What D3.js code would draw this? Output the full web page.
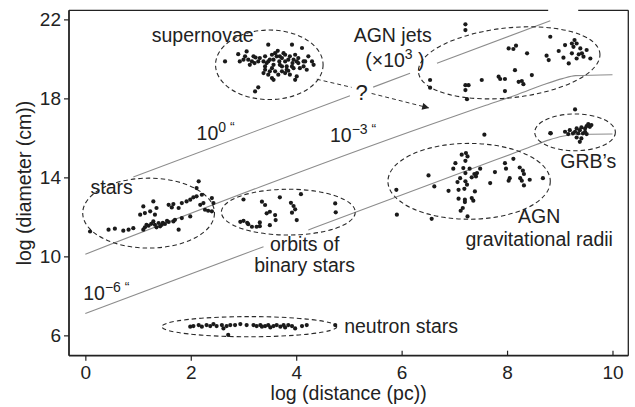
<!DOCTYPE html>
<html>
<head>
<meta charset="utf-8">
<script src="https://cdn.jsdelivr.net/npm/d3@7"></script>
<style>
  body { margin: 0; background: #fff; }
  svg text { font-family: "Liberation Sans", Arial, Helvetica, sans-serif; fill: #222; }
</style>
</head>
<body>
<svg id="chart" width="635" height="407"></svg>
<script>
// ---- data: [log distance (pc), log diameter (cm)] ----
const xTicks = [0, 2, 4, 6, 8, 10];
const yTicks = [6, 10, 14, 18, 22];

const supernovae = [[2.65,19.87],[2.90,20.24],[2.93,19.87],[3.00,19.96],[3.06,20.38],[3.09,19.96],[3.16,19.87],[3.21,19.79],[3.23,20.07],[3.28,19.87],[3.31,20.04],[3.38,19.87],[3.41,20.13],[3.44,19.79],[3.47,20.72],[3.50,19.96],[3.54,20.21],[3.57,19.70],[3.60,20.29],[3.63,20.13],[3.65,20.41],[3.68,19.87],[3.69,19.70],[3.73,20.04],[3.76,20.29],[3.79,19.87],[3.82,19.62],[3.85,19.96],[3.88,20.13],[3.92,20.72],[3.93,19.79],[3.95,19.53],[3.98,20.21],[4.01,19.87],[4.04,20.04],[4.07,19.53],[4.11,20.55],[4.14,19.62],[4.17,19.87],[4.20,19.45],[4.23,20.13],[4.30,19.87],[4.33,19.70],[3.38,19.28],[3.41,19.45],[3.47,19.20],[3.50,19.37],[3.54,19.03],[3.57,18.94],[3.60,19.37],[3.66,19.20],[3.73,19.37],[3.79,19.28],[3.85,19.40],[3.88,19.20],[4.01,19.11],[3.98,18.94],[3.22,18.35],[3.28,18.56],[3.54,19.53],[3.73,19.62],[3.82,19.45],[3.92,19.62],[3.41,19.62],[3.19,20.13],[3.12,19.70],[3.03,20.13],[3.47,19.87],[3.57,19.96],[3.69,20.13],[3.79,20.21],[3.95,19.96],[4.04,19.79],[4.14,19.87]];

const agnJets = [[7.21,21.75],[7.21,21.46],[8.82,21.12],[8.03,20.53],[8.12,20.50],[8.17,20.67],[8.38,20.28],[8.75,20.16],[8.79,19.94],[8.98,20.40],[9.10,20.70],[9.23,20.78],[9.28,20.95],[9.32,20.78],[9.26,20.61],[9.39,20.53],[9.42,20.28],[9.51,20.45],[9.58,20.02],[9.45,20.11],[9.36,20.23],[9.32,20.02],[9.23,20.28],[9.17,19.77],[9.07,20.06],[8.15,19.43],[8.47,19.18],[7.84,19.10],[7.87,18.98],[7.96,18.98],[7.52,18.93],[8.22,18.84],[8.28,18.88],[8.31,18.72],[7.21,18.67],[7.27,18.67],[7.21,18.42],[6.54,18.93],[6.54,18.54],[7.24,17.96],[7.96,18.37]];

const stars = [[0.09,11.26],[0.44,11.35],[0.56,11.40],[0.72,11.30],[0.82,11.35],[0.91,11.43],[1.10,11.35],[1.13,11.47],[1.16,11.60],[1.29,11.77],[1.32,11.60],[1.35,11.47],[1.39,11.69],[1.42,11.52],[1.45,11.60],[1.51,11.64],[1.58,11.74],[1.67,11.77],[1.70,11.85],[1.77,11.35],[1.83,11.94],[1.99,12.02],[1.29,12.78],[1.35,12.45],[1.23,12.28],[1.10,12.53],[1.13,12.19],[1.04,12.11],[1.32,12.11],[1.58,12.61],[1.67,12.65],[1.64,12.48],[1.77,12.45],[1.83,12.70],[1.92,12.78],[1.99,12.87],[2.05,12.99],[2.11,13.04],[2.15,13.80],[2.11,13.46],[2.21,13.12],[2.18,12.61],[2.24,12.70],[2.27,12.36],[2.33,12.31],[2.40,12.95],[2.40,12.28],[2.43,12.70],[1.20,11.55],[1.25,11.65],[1.47,11.70],[1.55,11.80]];

const binaries = [[3.00,12.88],[3.35,12.77],[3.41,12.60],[3.69,12.99],[4.09,13.15],[3.90,12.71],[3.95,12.55],[3.98,12.38],[3.92,12.21],[3.50,12.26],[3.44,12.18],[3.60,12.09],[3.61,11.84],[4.01,11.84],[4.74,12.68],[4.75,12.23],[2.94,11.75],[3.00,11.80],[3.07,11.70],[3.09,11.63],[3.16,11.50],[3.25,11.50],[3.31,11.53],[3.31,11.72],[3.50,11.58]];

const neutronStars = [[1.99,6.44],[2.05,6.47],[2.15,6.52],[2.21,6.44],[2.30,6.52],[2.37,6.47],[2.43,6.57],[2.49,6.47],[2.59,6.52],[2.62,6.35],[2.68,6.47],[2.75,6.52],[2.84,6.52],[2.94,6.57],[3.06,6.52],[3.19,6.52],[3.25,6.47],[3.32,6.52],[3.35,6.44],[3.41,6.47],[3.47,6.52],[3.51,6.40],[3.57,6.47],[3.63,6.52],[3.70,6.44],[3.76,6.52],[3.79,6.40],[3.85,6.52],[3.92,6.47],[3.98,6.35],[4.11,6.47],[4.20,6.52],[4.74,6.52],[2.71,6.02]];

const agnGrav = [[7.57,16.16],[7.14,15.15],[7.22,15.23],[7.25,15.06],[7.21,14.84],[7.02,14.72],[6.98,14.44],[7.17,14.47],[7.29,14.44],[7.21,14.22],[7.38,14.17],[7.43,14.22],[7.49,14.44],[7.33,14.00],[7.41,14.05],[7.11,13.96],[7.06,13.76],[7.21,13.80],[7.24,13.63],[7.19,13.42],[7.08,13.37],[6.89,13.32],[7.39,13.29],[6.51,14.10],[6.62,13.54],[5.90,13.37],[7.08,12.92],[7.20,12.87],[7.20,12.75],[7.33,12.95],[7.36,12.82],[7.16,12.45],[7.12,12.31],[7.25,12.02],[5.91,12.11],[6.57,11.90],[7.77,14.27],[7.68,13.71],[7.96,14.72],[7.98,14.44],[8.12,14.94],[8.24,14.50],[8.30,14.34],[8.32,14.17],[8.05,13.96],[8.03,13.83],[8.25,13.96],[8.28,13.83],[8.32,13.59],[8.43,13.88],[8.68,13.96]];

const grbs = [[9.29,17.44],[8.82,16.24],[8.83,16.23],[9.10,16.31],[9.19,16.39],[9.29,16.31],[9.32,16.48],[9.38,16.39],[9.41,16.53],[9.48,16.48],[9.51,16.60],[9.54,16.70],[9.57,16.56],[9.60,16.65],[9.35,16.23],[9.44,16.23],[9.32,16.02],[9.41,15.97],[9.38,15.80],[9.51,16.19],[9.16,16.19],[9.25,16.23],[9.48,16.31]];

// lines of constant angular size, broken where labels sit
const line1arcsec = [[[0.91,14.02],[5.02,18.13]], [[5.46,18.57],[6.16,19.27]], [[6.67,19.78],[8.82,21.93]]];
const lineMilliarcsec = [[[0,10.11],[7.0,17.1],[7.6,17.65],[8.2,18.2],[8.7,18.7],[9.05,19.0],[9.3,19.15],[10,19.2]]];
const lineMicroarcsec = [[[0,7.11],[3.38,10.49]], [[4.23,11.34],[7.8,14.9],[8.4,15.5],[8.8,15.9],[9.05,16.08],[9.3,16.17],[10,16.2]]];

const groups = [supernovae, agnJets, stars, binaries, neutronStars, agnGrav, grbs];

// dashed ellipses round each group: centre and half-extents in data units, tilt in degrees
const ellipses = [
  {cx: 3.49, cy: 19.70, rx: 1.02, ry: 1.76, rot: 0},
  {cx: 8.04, cy: 19.80, rx: 1.73, ry: 1.77, rot: -6},
  {cx: 1.20, cy: 12.19, rx: 1.25, ry: 1.77, rot: 0},
  {cx: 3.85, cy: 12.24, rx: 1.27, ry: 1.16, rot: 0},
  {cx: 3.11, cy: 6.44, rx: 1.66, ry: 0.51, rot: 0},
  {cx: 7.28, cy: 13.80, rx: 1.54, ry: 1.92, rot: 0},
  {cx: 9.29, cy: 16.28, rx: 0.765, ry: 0.93, rot: 0}
];

const W = 635, H = 407;
const margin = {top: 10.3, right: 6.7, bottom: 51.3, left: 69};

const svg = d3.select("#chart");

const x = d3.scaleLinear().domain([-0.31, 10.3]).range([margin.left, W - margin.right]);
const y = d3.scaleLinear().domain([4.97, 22.46]).range([H - margin.bottom, margin.top]);

// angular size lines
const line = d3.line().x(d => x(d[0])).y(d => y(d[1])).curve(d3.curveMonotoneX);
[line1arcsec, lineMilliarcsec, lineMicroarcsec].forEach(segs => {
  segs.forEach(seg => {
    svg.append("path")
      .attr("d", line(seg))
      .attr("fill", "none")
      .attr("stroke", "#8c8c8c")
      .attr("stroke-width", 1.1);
  });
});

// ellipses
svg.selectAll("ellipse")
  .data(ellipses)
  .enter().append("ellipse")
  .attr("cx", 0).attr("cy", 0)
  .attr("rx", d => x(d.cx + d.rx) - x(d.cx))
  .attr("ry", d => y(d.cy) - y(d.cy + d.ry))
  .attr("transform", d => `translate(${x(d.cx)},${y(d.cy)}) rotate(${d.rot})`)
  .attr("fill", "none")
  .attr("stroke", "#2a2a2a")
  .attr("stroke-width", 1.1)
  .attr("stroke-dasharray", "4.5,3");

// dots
groups.forEach(g => {
  svg.append("g").selectAll("circle")
    .data(g)
    .enter().append("circle")
    .attr("cx", d => x(d[0]))
    .attr("cy", d => y(d[1]))
    .attr("r", 2.1)
    .attr("fill", "#1a1a1a");
});

// dashed arrow from supernovae towards AGN jets
svg.append("defs").append("marker")
  .attr("id", "arrow")
  .attr("viewBox", "0 0 10 10")
  .attr("refX", 9).attr("refY", 5)
  .attr("markerWidth", 9).attr("markerHeight", 7)
  .attr("markerUnits", "userSpaceOnUse")
  .attr("orient", "auto")
  .append("path").attr("d", "M0,0L10,5L0,10z").attr("fill", "#222");

svg.append("line")
  .attr("x1", x(4.39)).attr("y1", y(18.97))
  .attr("x2", x(5.05)).attr("y2", y(18.56))
  .attr("stroke", "#333").attr("stroke-dasharray", "4,3");
svg.append("line")
  .attr("x1", x(5.43)).attr("y1", y(18.25))
  .attr("x2", x(6.51)).attr("y2", y(17.52))
  .attr("stroke", "#333").attr("stroke-dasharray", "4,3")
  .attr("marker-end", "url(#arrow)");

// frame
const frame = svg.append("g").attr("stroke", "#222").attr("fill", "none");
frame.append("line").attr("x1", margin.left).attr("x2", margin.left)
  .attr("y1", margin.top).attr("y2", H - margin.bottom).attr("stroke-width", 1.8);
frame.append("line").attr("x1", margin.left).attr("x2", W - margin.right)
  .attr("y1", H - margin.bottom).attr("y2", H - margin.bottom).attr("stroke-width", 1.8);
frame.append("line").attr("x1", W - margin.right).attr("x2", W - margin.right)
  .attr("y1", margin.top).attr("y2", H - margin.bottom).attr("stroke-width", 1.3);
frame.append("line").attr("x1", margin.left).attr("x2", x(8.78))
  .attr("y1", margin.top).attr("y2", margin.top).attr("stroke-width", 1.3);
frame.append("line").attr("x1", x(9.35)).attr("x2", W - margin.right)
  .attr("y1", margin.top).attr("y2", margin.top).attr("stroke-width", 1.3);

// axes
const yAxis = svg.append("g")
  .attr("transform", `translate(${margin.left},0)`)
  .call(d3.axisLeft(y).tickValues(yTicks).tickSize(5).tickPadding(3));
const xAxis = svg.append("g")
  .attr("transform", `translate(0,${H - margin.bottom})`)
  .call(d3.axisBottom(x).tickValues(xTicks).tickSize(5).tickPadding(5));
[xAxis, yAxis].forEach(a => {
  a.select(".domain").remove();
  a.selectAll(".tick line").attr("stroke", "#222").attr("stroke-width", 1.2);
  a.selectAll(".tick text").attr("font-size", 19).attr("fill", "#222")
    .style("font-family", '"Liberation Sans", Arial, sans-serif');
});
xAxis.selectAll(".tick line").attr("y2", d => d >= 6 ? -5 : 5);

// axis titles
svg.append("text")
  .attr("x", (margin.left + W - margin.right) / 2)
  .attr("y", 400)
  .attr("text-anchor", "middle")
  .attr("font-size", 19.5)
  .text("log (distance (pc))");
svg.append("text")
  .attr("transform", `translate(31,${(margin.top + H - margin.bottom) / 2}) rotate(-90)`)
  .attr("text-anchor", "middle")
  .attr("font-size", 19.5)
  .text("log (diameter (cm))");

// group labels
const labels = [
  {text: "supernovae", x: 1.26, y: 20.84, anchor: "start"},
  {text: "AGN jets", x: 5.09, y: 20.87, anchor: "start"},
  {text: "stars", x: 0.10, y: 13.14, anchor: "start"},
  {text: "orbits of", x: 4.16, y: 10.27, anchor: "middle"},
  {text: "binary stars", x: 4.16, y: 9.19, anchor: "middle"},
  {text: "neutron stars", x: 4.91, y: 6.13, anchor: "start"},
  {text: "AGN", x: 8.61, y: 11.67, anchor: "middle"},
  {text: "gravitational radii", x: 8.61, y: 10.54, anchor: "middle"},
  {text: "GRB\u2019s", x: 9.01, y: 14.46, anchor: "start"}
];
svg.append("g").selectAll("text")
  .data(labels)
  .enter().append("text")
  .attr("x", d => x(d.x))
  .attr("y", d => y(d.y))
  .attr("text-anchor", d => d.anchor)
  .attr("font-size", 19.5)
  .text(d => d.text);

// labels with superscripts
const supLabels = [
  {base: "10", sup: "0 \u201C", x: 2.11, y: 15.89},
  {base: "10", sup: "\u22123 \u201C", x: 4.64, y: 15.80},
  {base: "10", sup: "\u22126 \u201C", x: -0.04, y: 7.79}
];
supLabels.forEach(d => {
  const t = svg.append("text").attr("x", x(d.x)).attr("y", y(d.y)).attr("font-size", 19.5);
  t.append("tspan").text(d.base);
  t.append("tspan").attr("dy", -8).attr("font-size", 14).text(d.sup);
});

const jetScale = svg.append("text").attr("x", x(5.31)).attr("y", y(19.6)).attr("font-size", 19.5);
jetScale.append("tspan").text("(\u00D710");
jetScale.append("tspan").attr("dy", -8).attr("font-size", 14).text("3");
jetScale.append("tspan").attr("dy", 8).text(" )");

svg.append("text")
  .attr("x", x(5.24)).attr("y", y(17.91))
  .attr("text-anchor", "middle")
  .attr("font-size", 22)
  .text("?");
</script>
</body>
</html>
